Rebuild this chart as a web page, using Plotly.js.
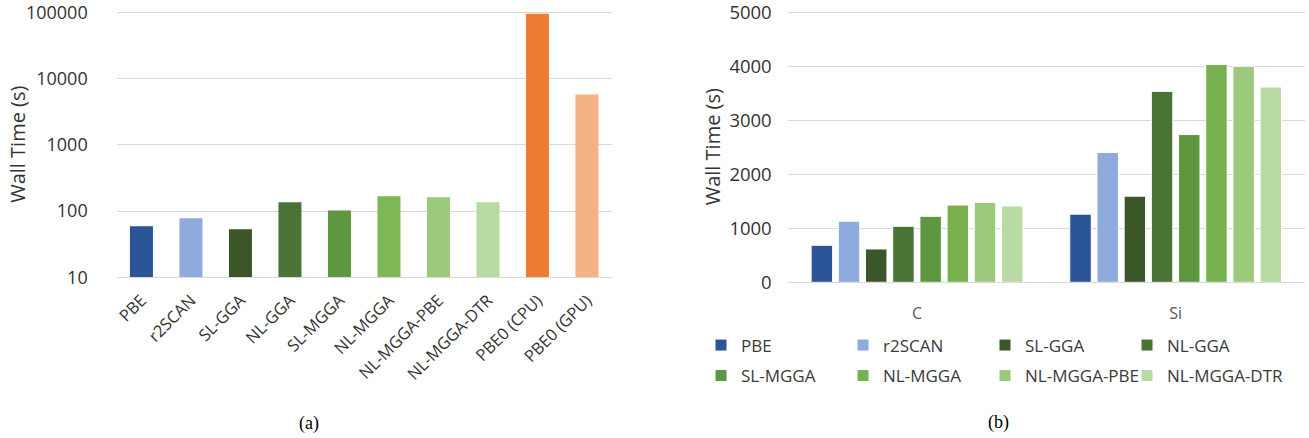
<!DOCTYPE html>
<html>
<head>
<meta charset="utf-8">
<script src="https://cdn.plot.ly/plotly-3.0.1.min.js"></script>
<style>
  html, body { margin: 0; padding: 0; background: #fff; }
  #chart { width: 1309px; height: 438px; }
</style>
</head>
<body>
<div id="chart"></div>
<script>
// Functional names shared by both panels
const methods = ['PBE', 'r2SCAN', 'SL-GGA', 'NL-GGA', 'SL-MGGA', 'NL-MGGA', 'NL-MGGA-PBE', 'NL-MGGA-DTR'];

// Panel (a): wall time per functional, log scale
const panelACategories = ['PBE', 'r2SCAN', 'SL-GGA', 'NL-GGA', 'SL-MGGA', 'NL-MGGA', 'NL-MGGA-PBE', 'NL-MGGA-DTR', 'PBE0 (CPU)', 'PBE0 (GPU)'];
const panelATimes = [59, 78, 53, 136, 102, 167, 162, 136, 95500, 5750];
const panelAColors = ['#2b5597', '#8faadc', '#3b5628', '#4a7436', '#5f9640', '#7eb855', '#9dc97c', '#b7dba3', '#ed7d31', '#f4b183'];
const logTickVals = [10, 100, 1000, 10000, 100000];
const logTickText = ['10', '100', '1000', '10000', '100000'];

// Panel (b): wall time per system and functional
const systems = ['C', 'Si'];
const timeC = [685, 1130, 617, 1037, 1222, 1431, 1481, 1413];
const timeSi = [1262, 2403, 1595, 3536, 2736, 4035, 4000, 3616];
const panelBColors = ['#2b5597', '#8faadc', '#3b5628', '#4a7436', '#5f9640', '#77b24e', '#9dc97c', '#b7dba3'];

const W = 1309, H = 438;
const px = v => v / W;          // horizontal pixel -> paper fraction
const py = v => 1 - v / H;      // vertical pixel (from top) -> paper fraction

const tickFont = { family: 'Open Sans, sans-serif', color: '#333333' };
const gridColor = '#d9d9d9';

// Axis ranges run a little past the top tick so its gridline is kept;
// the domains are stretched by the same amount.
const logTop = 5.02, logDecadePx = 265 / 4;
const linTop = 5025, linUnitPx = 270 / 5000;

const traces = [];

traces.push({
  type: 'bar',
  x: panelACategories,
  y: panelATimes,
  width: 0.465,
  marker: { color: panelAColors, line: { width: 0 } },
  xaxis: 'x', yaxis: 'y',
  showlegend: false,
  hoverinfo: 'x+y'
});

methods.forEach((name, i) => {
  const t = {
    type: 'bar',
    name: name,
    x: systems,
    y: [timeC[i], timeSi[i]],
    marker: { color: panelBColors[i], line: { color: '#ffffff', width: 1 } },
    xaxis: 'x2', yaxis: 'y2',
    legend: i < 4 ? 'legend' : 'legend2'
  };
  // the last entry of each row gets room for its full label
  if (i === 3 || i === 7) t.legendwidth = 130;
  traces.push(t);
});

const legendStyle = {
  orientation: 'h',
  xanchor: 'left',
  yanchor: 'middle',
  x: px(701),
  entrywidth: 97,
  entrywidthmode: 'pixels',
  bgcolor: 'rgba(0,0,0,0)',
  font: { family: 'Open Sans, sans-serif', size: 17, color: '#3a3a3a' },
  traceorder: 'normal'
};

const layout = {
  width: W,
  height: H,
  margin: { l: 0, r: 0, t: 0, b: 0 },
  paper_bgcolor: '#ffffff',
  plot_bgcolor: '#ffffff',
  barmode: 'group',
  bargap: 0.159,
  bargroupgap: 0.21,
  showlegend: true,
  legend: Object.assign({}, legendStyle, { y: py(345.5) }),
  legend2: Object.assign({}, legendStyle, { y: py(376) }),
  xaxis: {
    domain: [px(116.7), px(611.7)],
    anchor: 'y',
    type: 'category',
    tickangle: -45,
    tickfont: Object.assign({ size: 16.5 }, tickFont),
    ticklabelstandoff: 6,
    showgrid: false,
    zeroline: false,
    showline: true,
    linecolor: gridColor,
    linewidth: 1,
    fixedrange: true
  },
  yaxis: {
    domain: [py(277.3), py(12.3 - (logTop - 5) * logDecadePx)],
    anchor: 'x',
    type: 'log',
    range: [1, logTop],
    tickvals: logTickVals,
    ticktext: logTickText,
    tickfont: Object.assign({ size: 18 }, tickFont),
    ticklabelstandoff: 28,
    ticklabeloverflow: 'allow',
    showgrid: true,
    gridcolor: gridColor,
    gridwidth: 1,
    zeroline: false,
    showline: false,
    fixedrange: true
  },
  xaxis2: {
    domain: [px(787.7), px(1305)],
    anchor: 'y2',
    type: 'category',
    tickfont: { family: 'Open Sans, sans-serif', size: 16, color: '#595959' },
    ticklabelstandoff: 16,
    showgrid: false,
    zeroline: false,
    showline: true,
    linecolor: gridColor,
    linewidth: 1,
    fixedrange: true
  },
  yaxis2: {
    domain: [py(282.3), py(12.3 - (linTop - 5000) * linUnitPx)],
    anchor: 'x2',
    range: [0, linTop],
    dtick: 1000,
    tickformat: 'd',
    tickfont: Object.assign({ size: 18.5 }, tickFont),
    ticklabelstandoff: 15,
    ticklabeloverflow: 'allow',
    showgrid: true,
    gridcolor: gridColor,
    gridwidth: 1,
    zeroline: false,
    showline: false,
    fixedrange: true
  },
  annotations: [
    {
      text: 'Wall Time (s)', textangle: -90,
      xref: 'paper', yref: 'paper',
      x: px(18), y: py((12.3 + 277.3) / 2),
      xanchor: 'center', yanchor: 'middle', showarrow: false,
      font: { family: 'Open Sans, sans-serif', size: 20, color: '#333333' }
    },
    {
      text: 'Wall Time (s)', textangle: -90,
      xref: 'paper', yref: 'paper',
      x: px(712), y: py((12.3 + 282.3) / 2),
      xanchor: 'center', yanchor: 'middle', showarrow: false,
      font: { family: 'Open Sans, sans-serif', size: 20, color: '#333333' }
    },
    {
      text: '(a)', xref: 'paper', yref: 'paper',
      x: px(309), y: py(423), xanchor: 'center', yanchor: 'middle', showarrow: false,
      font: { family: 'Liberation Serif, serif', size: 18, color: '#000000' }
    },
    {
      text: '(b)', xref: 'paper', yref: 'paper',
      x: px(998), y: py(422.3), xanchor: 'center', yanchor: 'middle', showarrow: false,
      font: { family: 'Liberation Serif, serif', size: 18, color: '#000000' }
    }
  ]
};

Plotly.newPlot('chart', traces, layout, { staticPlot: true, displayModeBar: false });
</script>
</body>
</html>
